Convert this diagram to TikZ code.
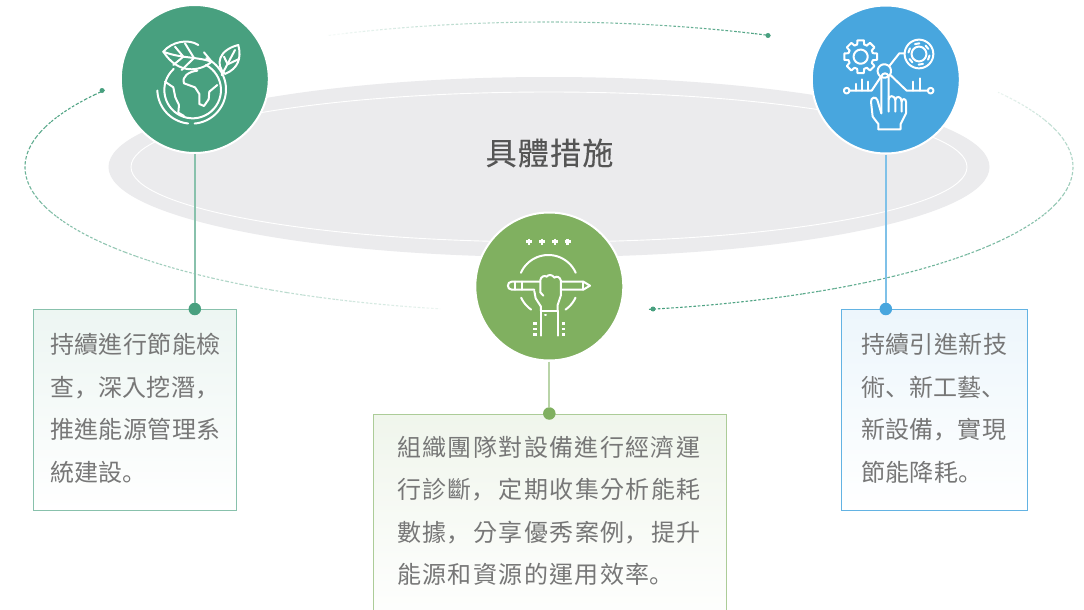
\documentclass[tikz,border=0pt]{standalone}
\usepackage{fontspec}
\newfontfamily\tcfa[LetterSpace=1.6]{Noto Sans CJK TC}
\newfontfamily\scfa[LetterSpace=1.6]{Noto Sans CJK SC}
\newfontfamily\tcfb[LetterSpace=5.7]{Noto Sans CJK TC}
\newfontfamily\scfb[LetterSpace=5.7]{Noto Sans CJK SC}
\newfontfamily\titlef[FakeBold=0.25,LetterSpace=4]{Noto Sans CJK TC}
\newcommand\pa[1]{{\scfa #1}}
\newcommand\pb[1]{{\scfb #1}\kern3pt\relax}
\newcommand\zarc[5]{plot[domain=#4:#5,samples=40,variable=\q] ({#1+#3*cos(\q)},{#2+#3*sin(\q)})}
\definecolor{cgreen}{HTML}{48A07F}
\definecolor{cblue}{HTML}{48A6DE}
\definecolor{colive}{HTML}{80B060}
\definecolor{cgray}{HTML}{EBEBED}
\definecolor{ctext}{HTML}{777777}
\definecolor{ctitle}{HTML}{555555}
\tikzset{
 disc/.style={circle,draw=white,line width=2pt,minimum size=148pt,inner sep=0pt},
 endball/.style={circle,inner sep=0pt,minimum size=12.5pt},
 stem/.style={line width=1.7pt},
 card/.style={rectangle,inner sep=0pt,line width=1.4pt,anchor=north west},
 cardtext/.style={anchor=north west,inner sep=0pt,align=left,text=ctext},
 icon/.style={draw=white,line width=2pt,line cap=round,line join=round},
 iconbar/.style={draw=white,line width=2.6pt,line cap=butt},
 orbit/.style={line width=1.1pt,dash pattern=on 2.6pt off 1.8pt},
 pin/.style={circle,inner sep=0pt,minimum size=5pt},
 zoomA/.style={shift={(110,0)},x=.3333pt,y=-.3333pt},
 zoomB/.style={shift={(800,0)},x=.3333pt,y=-.3333pt},
 zoomC/.style={shift={(465,205)},x=.3333pt,y=-.3333pt},
}
\begin{document}
\begin{tikzpicture}[x=1pt,y=-1pt]
\clip (0,0) rectangle (1084,610);
\fill[white] (0,0) rectangle (1084,610);
% central ellipses
\fill[cgray] (549,167) ellipse [x radius=440.5pt,y radius=90pt];
\draw[white,line width=.9pt] (549,167) ellipse [x radius=418pt,y radius=75pt];
\node[font=\titlef\fontsize{31}{36}\selectfont,text=ctitle,inner sep=0pt] (title) at (549.5,153) {具體措施};
% orbit
\foreach \t in {66,68,...,114}{
 \pgfmathsetmacro\op{100*(1-(\t-65)/51)^.9}
 \draw[orbit,cgreen,opacity=\op/100] plot[domain=\t-1:\t+1,samples=4,variable=\q] ({549+524*cos(\q)},{167-145*sin(\q)});
}
\foreach \t in {149,151,...,257}{
 \pgfmathsetmacro\op{100*(1-(\t-148)/112)^.6}
 \draw[orbit,cgreen,opacity=\op/100] plot[domain=\t-1:\t+1,samples=4,variable=\q] ({549+524*cos(\q)},{167-145*sin(\q)});
}
\foreach \t in {282,284,...,390}{
 \pgfmathsetmacro\op{100*(1-(\t-281)/112)^.6}
 \draw[orbit,cgreen,opacity=\op/100] plot[domain=\t-1:\t+1,samples=4,variable=\q] ({549+524*cos(\q)},{167-145*sin(\q)});
}
\node[pin,fill=cgreen] (pinA) at (102,90.5) {};
\node[pin,fill=cgreen] (pinB) at (768,35.5) {};
\node[pin,fill=cgreen] (pinC) at (653,309) {};
% cards
\node[card,draw=cgreen!65,top color=cgreen!10,bottom color=white,minimum width=203pt,minimum height=201pt] (boxA) at (33,308.7) {};
\node[card,draw=colive!65,top color=colive!12,bottom color=white,minimum width=353pt,minimum height=216pt] (boxC) at (372.5,413.7) {};
\node[card,draw=cblue!85,top color=cblue!10,bottom color=white,minimum width=186pt,minimum height=201pt] (boxB) at (840.5,308.7) {};
% discs
\node[disc,fill=cgreen] (discA) at (194.8,79) {};
\node[disc,fill=cblue] (discB) at (885.8,79.5) {};
\node[disc,fill=colive] (discC) at (549.3,286.5) {};
% end balls
\node[endball,fill=cgreen] (ballA) at (194.8,309) {};
\node[endball,fill=cblue] (ballB) at (885.8,309) {};
\node[endball,fill=colive] (ballC) at (549.3,413.5) {};
\draw[stem,cgreen!65] (discA) -- (ballA);
\draw[stem,cblue!70,line width=2pt] (discB) -- (ballB);
\draw[stem,colive!55] (discC) -- (ballC);
% texts
\node[cardtext,font=\tcfa\fontsize{24}{42.67}\selectfont] (txtA) at (50,333) {持續進行節能檢\\查\pa{，}深入挖潛\pa{，}\\推進能源管理系\\統建設\pa{。}};
\node[cardtext,font=\tcfb\fontsize{24}{42.4}\selectfont] (txtC) at (397,436) {組織團隊對設備進行經濟運\\行診斷\pb{，}定期收集分析能耗\\數據\pb{，}分享優秀案例\pb{，}提升\\能源和資源的運用效率\pb{。}};
\node[cardtext,font=\tcfa\fontsize{24}{42.67}\selectfont] (txtB) at (861,333) {持續引進新技\\術\pa{、}新工藝\pa{、}\\新設備\pa{，}實現\\節能降耗\pa{。}};
% globe icon
\begin{scope}[zoomA]
\draw[icon] \zarc{248}{270}{85}{-62}{228};
\draw[icon] \zarc{245}{268}{103}{-65}{85};
\draw[icon] \zarc{245}{268}{103}{96}{178};
\draw[icon] (160,155) .. controls (185,125) and (235,115) .. (265,135);
\draw[icon] (282,157) -- (305,185) .. controls (270,215) and (205,225) .. (160,155);
\draw[icon] (160,155) .. controls (210,175) and (260,170) .. (305,185);
\draw[icon] (195,140) -- (220,170) -- (190,195);
\draw[icon] (225,130) -- (252,174) -- (215,210);
\draw[icon] (335,225) -- (375,150);
\draw[icon] (345,222) .. controls (315,195) and (325,150) .. (385,135) .. controls (395,175) and (385,205) .. (345,222);
\draw[icon] (342,170) -- (353,193);
\draw[icon] (353,193) -- (385,178);
\draw[icon] (165,245) -- (190,262) -- (196,292) -- (207,315) -- (205,338) -- (222,348);
\draw[icon] (262,212) .. controls (235,215) and (215,230) .. (222,250) -- (255,262) -- (268,282) -- (268,312) -- (282,318) -- (296,298) -- (298,275) -- (322,255);
\end{scope}
% tech icon
\begin{scope}[zoomB]
\foreach \k in {0,...,7}{
 \pgfmathsetmacro\aa{45*\k}
 \draw[icon,shift={(182,170)}] ({\aa-16}:38) -- ({\aa-11}:50) -- ({\aa+11}:50) -- ({\aa+16}:38) -- ({\aa+29}:38);
}
\draw[icon] \zarc{182}{170}{21}{0}{360};
\draw[icon] \zarc{357}{162}{43}{0}{360};
\draw[icon] \zarc{357}{162}{22}{0}{360};
\foreach \aa in {0,60,...,300}{
 \draw[icon,shift={(357,162)}] ({\aa+8}:32) -- ({\aa+32}:32);
}
\draw[icon] \zarc{253}{213}{20}{0}{360};
\draw[icon] (268,198) -- (298,160) -- (314,160);
\draw[icon] \zarc{140}{272}{8}{0}{360};
\draw[icon] (148,272) -- (215,272) -- (243,230);
\draw[icon] \zarc{392}{272}{8}{0}{360};
\draw[icon] (384,272) -- (320,272) -- (272,226);
\draw[icon] (168,272) -- (168,252);
\draw[icon] (186,272) -- (186,238);
\draw[icon] (205,272) -- (205,245);
\draw[icon] (340,272) -- (340,245);
\draw[icon] (360,272) -- (360,235);
\draw[icon] (235,388) -- (302,388) -- (302,372) -- (318,340) -- (318,305) .. controls (318,295) and (305,295) .. (305,305) -- (305,335);
\draw[icon] (305,305) .. controls (305,287) and (286,287) .. (286,300) -- (286,335);
\draw[icon] (286,300) .. controls (284,285) and (266,285) .. (266,298);
\draw[icon] (266,335) -- (266,232) .. controls (266,216) and (244,216) .. (244,232) -- (244,340);
\draw[icon] (244,340) -- (232,300) .. controls (228,288) and (212,292) .. (213,305) -- (218,350) -- (235,372) -- (235,388);
\end{scope}
% pencil icon
\begin{scope}[zoomC]
\foreach \xx in {192,231,270,308}{
 \draw[iconbar] (\xx-9,110) -- (\xx+9,110) (\xx,101) -- (\xx,119);
}
\draw[icon] \zarc{250}{240}{90}{-156}{-24};
\draw[icon] \zarc{250}{240}{90}{25}{55};
\draw[icon] \zarc{250}{240}{90}{125}{155};
\draw[icon] (225,230) -- (140,230) .. controls (125,230) and (125,254) .. (140,254) -- (208,254);
\draw[icon] (290,230) -- (355,230) -- (375,242) -- (355,254) -- (290,254);
\draw[icon] (150,230) -- (150,254) (170,230) -- (170,254) (355,230) -- (355,254);
\draw[icon] (228,318) -- (228,392) (278,318) -- (278,392);
\draw[icon] (228,318) -- (278,318);
\draw[icon] (228,318) -- (228,305) -- (212,280) -- (208,258);
\draw[icon] (278,318) -- (278,300) -- (288,270) -- (288,228) .. controls (285,215) and (275,212) .. (268,218) .. controls (262,208) and (250,208) .. (245,215) .. controls (238,210) and (228,215) .. (226,225) -- (226,262) -- (235,272);
\draw[icon] (240,330) -- (243,330);
\foreach \yy in {355,372,388}{
 \draw[iconbar] (205,\yy) -- (215,\yy);
 \draw[iconbar] (290,\yy) -- (300,\yy);
}
\end{scope}
\end{tikzpicture}
\end{document}
